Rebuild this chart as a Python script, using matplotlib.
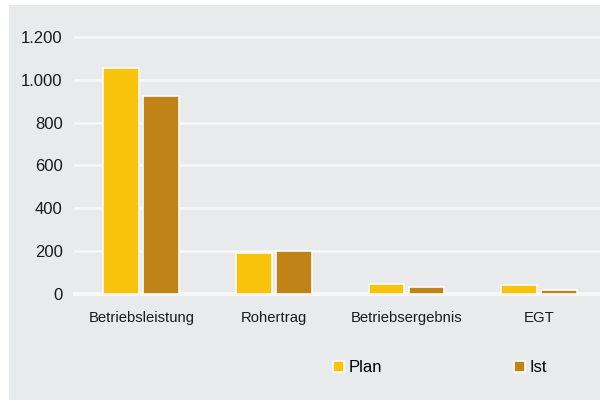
import matplotlib.pyplot as plt
from matplotlib.patches import Rectangle
import numpy as np

plt.rcParams['font.family'] = ['Liberation Sans', 'DejaVu Sans']

# data
categories = ["Betriebsleistung", "Rohertrag", "Betriebsergebnis", "EGT"]
plan = [1055, 191, 46, 44]
ist = [925, 201, 31, 19]
y_ticks = [0, 200, 400, 600, 800, 1000, 1200]
y_tick_labels = ["0", "200", "400", "600", "800", "1.000", "1.200"]

col_plan = "#fac30b"
col_ist = "#c08317"
col_bg = "#e9eaec"

W, H = 600, 401
fig = plt.figure(figsize=(W / 100, H / 100), dpi=100, facecolor="white")

# grey panel behind everything
fig.patches.append(Rectangle((9 / W, 1 - 400 / H), 1 - 9 / W, (400 - 5) / H,
                             transform=fig.transFigure, facecolor=col_bg,
                             edgecolor="none", zorder=-5))

# axes placed in pixel terms: left 75, bottom at 0-line (294), top at 1200-line (37)
ax = fig.add_axes([75 / W, 1 - 294 / H, 1 - 75 / W, (294 - 37) / H])
ax.set_facecolor("none")
ax.set_zorder(2)

x = np.arange(len(categories))
w = 0.27
off = 0.151
ax.bar(x - off, plan, w, color=col_plan, edgecolor="#fbfbfb", linewidth=1.2,
       label="Plan", zorder=3)
ax.bar(x + off, ist, w, color=col_ist, edgecolor="#fbfbfb", linewidth=1.2,
       label="Ist", zorder=3)

ax.set_xlim(-0.5, 3.46)
ax.set_ylim(0, 1200)
ax.set_yticks(y_ticks)
ax.set_yticklabels(y_tick_labels, fontsize=12, color="#1a1a1a")
ax.set_xticks(x)
ax.set_xticklabels(categories, fontsize=10.7, color="#1a1a1a")
ax.tick_params(axis="y", length=0, pad=9)
ax.tick_params(axis="x", length=0, pad=12)

for s in ax.spines.values():
    s.set_visible(False)
ax.grid(axis="y", color="#f7f7f8", linewidth=2, zorder=1, clip_on=False)
ax.set_axisbelow(True)
ax.axhline(0, color="#f7f7f8", linewidth=3, zorder=2, clip_on=False)

leg = fig.legend(loc="center left", bbox_to_anchor=(333 / W, 1 - 368 / H),
                 bbox_transform=fig.transFigure, ncol=2, frameon=False,
                 fontsize=12, handlelength=0.65, handleheight=0.65,
                 handletextpad=0.3, columnspacing=7.9, borderpad=0,
                 borderaxespad=0)

fig.savefig("out.png", dpi=100, facecolor="white")
